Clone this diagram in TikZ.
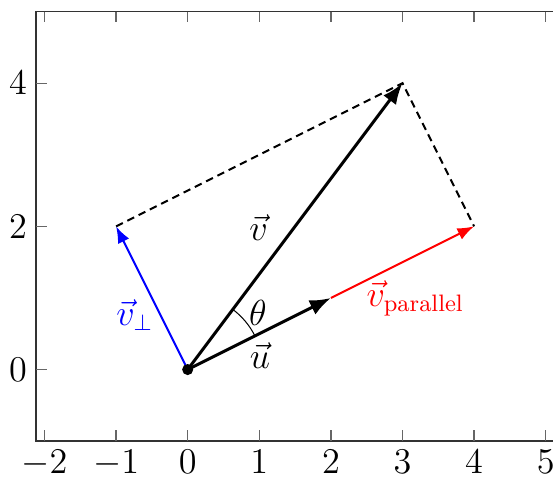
\documentclass[tikz,border=0pt]{standalone}
\usepackage{amsmath}
\usetikzlibrary{arrows.meta}
\begin{document}
\begin{tikzpicture}[>={Latex}, every node/.style={font=\fontsize{13.5}{16}\selectfont},
    vecarrow/.style={->, line width=1.2pt},
    partarrow/.style={->, line width=0.8pt},
    helper/.style={dash pattern=on 3pt off 2pt, line width=0.8pt}]
    \useasboundingbox (-2.621,-1.487) rectangle (5.102,5.161);
    \clip (-2.621,-1.487) rectangle (5.102,5.161);
    % axis frame and ticks
    \draw[line width=0.6pt, black!80] (5.4,-1) -- (-2.12,-1) -- (-2.12,5) -- (5.4,5);
    \foreach \x in {-2,...,5}{
      \draw[line width=0.5pt, black!60] (\x,-1) -- (\x,-0.85);
      \draw[line width=0.5pt, black!60] (\x,5) -- (\x,4.85);
      \node[anchor=north] (xt\x) at (\x,-1) {$\x$};
    }
    \foreach \y in {0,2,4}{
      \draw[line width=0.5pt, black!60] (-2.12,\y) -- (-1.97,\y);
      \node[anchor=east] (yt\y) at (-2.12,\y) {$\y$};
    }
    % vectors
    \coordinate (O) at (0,0);
    \coordinate (U) at (2,1);
    \coordinate (V) at (3,4);
    \coordinate (P) at (4,2);
    \coordinate (Q) at (-1,2);
    \draw[helper] (Q) -- (V) -- (P);
    \draw[partarrow, blue] (O) -- (Q);
    \draw[partarrow, red] (U) -- (P);
    \draw[vecarrow] (O) -- (V);
    \draw[vecarrow] (O) -- (U);
    \fill (O) circle (2.2pt);
    % angle
    \draw[line width=0.4pt] ([shift={(26.57:1.05)}]O) arc (26.57:53.13:1.05);
    \node (theta) at (0.98,0.79) {$\theta$};
    \node (vlab) at (0.99,1.98) {$\vec{v}$};
    \node (ulab) at (1.01,0.2) {$\vec{u}$};
    \node[blue] (perplab) at (-0.74,0.76) {$\vec{v}_\perp$};
    \node[red] (parlab) at (3.18,0.99) {$\vec{v}_{\text{parallel}}$};
\end{tikzpicture}
\end{document}
